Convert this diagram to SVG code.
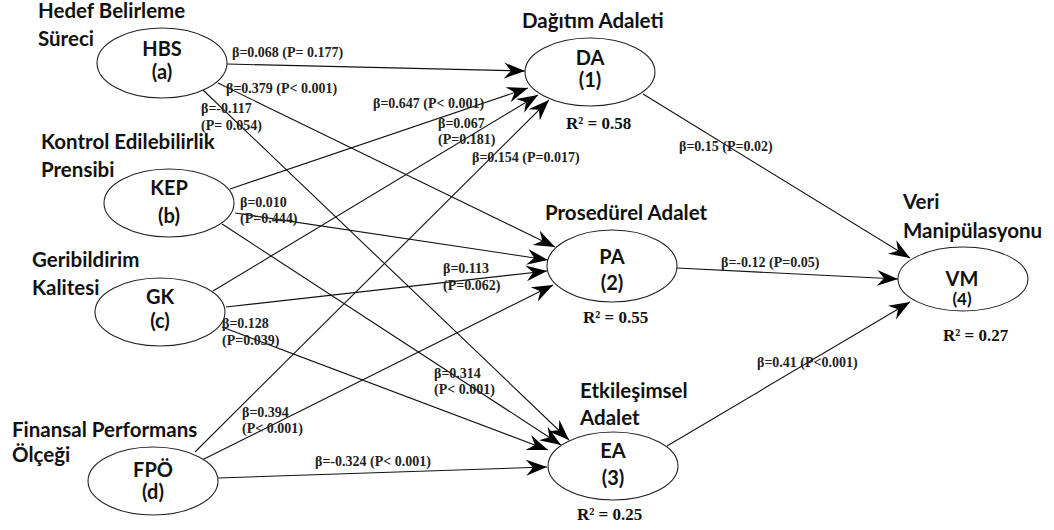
<svg xmlns="http://www.w3.org/2000/svg" width="1054" height="530" viewBox="0 0 1054 530">
<defs>
<marker id="arr" markerUnits="userSpaceOnUse" markerWidth="24" markerHeight="18" refX="21" refY="8" orient="auto" viewBox="0 0 24 16">
<path d="M0,0 L21,8 L0,16 L7,8 Z" fill="#000"/>
</marker>
<style>
.title{font-family:Lato,"Liberation Sans",sans-serif;font-weight:bold;font-size:20.5px;fill:#111}
.node ellipse{fill:#fff;stroke:#222;stroke-width:1.1}
.nt{font-family:Lato,"Liberation Sans",sans-serif;font-weight:bold;font-size:20px;fill:#111;text-anchor:middle}
.r2{font-family:"Liberation Serif",serif;font-weight:bold;font-size:17px;fill:#111}
.lb{font-family:"Liberation Serif",serif;font-weight:bold;font-size:14px;fill:#222}
.edges line{stroke:#111;stroke-width:1.1;marker-end:url(#arr)}
</style>
</defs>
<rect width="1054" height="530" fill="#fff"/>

<g id="connectors" class="edges">
<line x1="227" y1="64" x2="525" y2="71"/>
<line x1="218" y1="83" x2="555" y2="247"/>
<line x1="203" y1="90" x2="569" y2="440"/>
<line x1="230" y1="189" x2="528" y2="88"/>
<line x1="235" y1="213" x2="548" y2="260"/>
<line x1="222" y1="224" x2="561" y2="445"/>
<line x1="213" y1="291" x2="538" y2="95"/>
<line x1="226" y1="307" x2="547" y2="271"/>
<line x1="222" y1="327" x2="548" y2="450"/>
<line x1="195" y1="452" x2="549" y2="100"/>
<line x1="202" y1="460" x2="553" y2="285"/>
<line x1="218" y1="478" x2="547" y2="467"/>
<line x1="643" y1="94" x2="910" y2="258"/>
<line x1="677" y1="268" x2="898" y2="279"/>
<line x1="667" y1="446" x2="910" y2="302"/>
</g>

<g id="edge-labels">
<text class="lb" x="232" y="57">β=0.068 (P= 0.177)</text>
<text class="lb" x="226" y="93">β=0.379 (P&lt; 0.001)</text>
<text class="lb" x="201" y="113">β=-0.117</text>
<text class="lb" x="201" y="130">(P= 0.054)</text>
<text class="lb" x="373" y="108">β=0.647 (P&lt; 0.001)</text>
<text class="lb" x="438" y="128">β=0.067</text>
<text class="lb" x="438" y="144">(P=0.181)</text>
<text class="lb" x="472" y="162">β=0.154 (P=0.017)</text>
<text class="lb" x="240" y="207">β=0.010</text>
<text class="lb" x="240" y="223">(P=0.444)</text>
<text class="lb" x="443" y="273">β=0.113</text>
<text class="lb" x="443" y="290">(P=0.062)</text>
<text class="lb" x="222" y="328">β=0.128</text>
<text class="lb" x="222" y="345">(P=0.039)</text>
<text class="lb" x="434" y="378">β=0.314</text>
<text class="lb" x="434" y="394">(P&lt; 0.001)</text>
<text class="lb" x="242" y="417">β=0.394</text>
<text class="lb" x="242" y="433">(P&lt; 0.001)</text>
<text class="lb" x="315" y="466">β=-0.324 (P&lt; 0.001)</text>
<text class="lb" x="679" y="151">β=0.15 (P=0.02)</text>
<text class="lb" x="721" y="267">β=-0.12 (P=0.05)</text>
<text class="lb" x="757" y="367">β=0.41 (P&lt;0.001)</text>
</g>

<g id="node-HBS" class="node">
<text class="title" x="38" y="18">Hedef Belirleme</text>
<text class="title" x="38" y="46">Süreci</text>
<ellipse cx="162" cy="63" rx="65" ry="35"/>
<text class="nt" x="162" y="56">HBS</text>
<text class="nt" x="162" y="79">(a)</text>
</g>

<g id="node-KEP" class="node">
<text class="title" x="41" y="149">Kontrol Edilebilirlik</text>
<text class="title" x="41" y="177">Prensibi</text>
<ellipse cx="169" cy="203" rx="65" ry="34"/>
<text class="nt" x="169" y="195">KEP</text>
<text class="nt" x="169" y="223">(b)</text>
</g>

<g id="node-GK" class="node">
<text class="title" x="32" y="267">Geribildirim</text>
<text class="title" x="32" y="295">Kalitesi</text>
<ellipse cx="160" cy="312" rx="65" ry="34"/>
<text class="nt" x="160" y="304">GK</text>
<text class="nt" x="160" y="328">(c)</text>
</g>

<g id="node-FPO" class="node">
<text class="title" x="12" y="437">Finansal Performans</text>
<text class="title" x="12" y="462">Ölçeği</text>
<ellipse cx="153" cy="481" rx="65" ry="34"/>
<text class="nt" x="153" y="477">FPÖ</text>
<text class="nt" x="153" y="499">(d)</text>
</g>

<g id="node-DA" class="node">
<text class="title" x="522" y="28">Dağıtım Adaleti</text>
<ellipse cx="590" cy="72" rx="65" ry="34"/>
<text class="nt" x="590" y="65">DA</text>
<text class="nt" x="590" y="87">(1)</text>
<text class="r2" x="566" y="129">R² = 0.58</text>
</g>

<g id="node-PA" class="node">
<text class="title" x="545" y="220">Prosedürel Adalet</text>
<ellipse cx="612" cy="266" rx="65" ry="36"/>
<text class="nt" x="612" y="264">PA</text>
<text class="nt" x="612" y="290">(2)</text>
<text class="r2" x="583" y="323">R² = 0.55</text>
</g>

<g id="node-EA" class="node">
<text class="title" x="580" y="398">Etkileşimsel</text>
<text class="title" x="580" y="425">Adalet</text>
<ellipse cx="613" cy="466" rx="65" ry="34"/>
<text class="nt" x="613" y="458">EA</text>
<text class="nt" x="613" y="485">(3)</text>
<text class="r2" x="577" y="520">R² = 0.25</text>
</g>

<g id="node-VM" class="node">
<text class="title" x="903" y="209">Veri</text>
<text class="title" x="903" y="238">Manipülasyonu</text>
<ellipse cx="963" cy="279" rx="65" ry="32"/>
<text class="nt" x="962" y="286">VM</text>
<text class="nt" x="962" y="305" style="font-size:17px">(4)</text>
<text class="r2" x="943" y="341">R² = 0.27</text>
</g>
</svg>
